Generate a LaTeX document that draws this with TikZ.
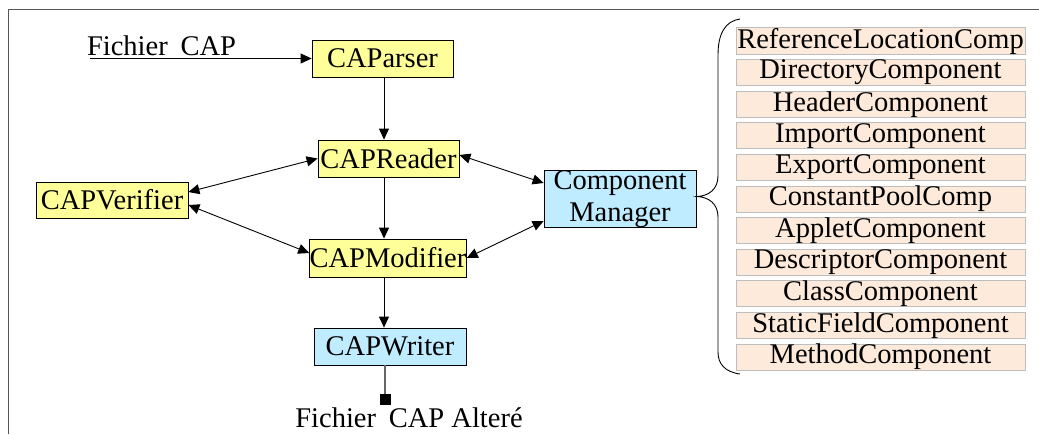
\documentclass[tikz,border=0pt]{standalone}
\usepackage{fontspec}
\setmainfont{Liberation Serif}
\usetikzlibrary{arrows.meta}
\definecolor{yel}{HTML}{FFFF99}
\definecolor{blu}{HTML}{C0ECFF}
\definecolor{pch}{HTML}{FDEADA}
\definecolor{pbd}{HTML}{BDBDBD}
\definecolor{frm}{HTML}{555555}
\begin{document}
\begin{tikzpicture}[x=1pt,y=-1pt,
  every node/.style={font=\fontsize{28.5}{31.7}\selectfont, inner sep=0pt},
  ybox/.style={draw=black, line width=0.8pt, fill=yel, minimum width=#1, minimum height=37pt},
  bbox/.style={draw=black, line width=0.8pt, fill=blu, minimum width=152pt},
  pbox/.style={draw=pbd, line width=1pt, fill=pch, minimum width=289pt, minimum height=26pt},
  arr/.style={line width=0.9pt, -{Triangle[length=11pt,width=10pt]}},
  darr/.style={line width=0.9pt, {Triangle[length=11pt,width=10pt]}-{Triangle[length=11pt,width=10pt]}}]
\useasboundingbox (0,0) rectangle (1039,434);
% frame
\draw[frm, line width=1.5pt] (8.5,434) -- (8.5,9.5) -- (1039,9.5);

% main nodes
\node[ybox=141pt] (parser) at (382.5,58.5) {CAParser};
\node[ybox=141pt] (reader) at (388.5,158.5) {CAPReader};
\node[ybox=152pt, minimum height=36pt] (verifier) at (112,200) {CAPVerifier};
\node[ybox=152pt, minimum height=38pt] (modifier) at (388,258) {CAPModifier};
\node[bbox, minimum height=37pt] (writer) at (390,346.5) {CAPWriter};
\node[bbox, minimum height=54pt, align=center] (cm) at (620,199) {Component\\Manager};
\node[fill=black, minimum size=11pt] (sq) at (385,399.5) {};
\node[anchor=base] (out) at (409,427.5) {Fichier\hspace{0.45em}CAP Alteré};
\node[anchor=base] (in) at (161.5,55) {Fichier\hspace{0.45em}CAP};
\coordinate (inl) at (90,58.5);
\coordinate (colx) at (384,0);

% connectors
\draw[arr] (inl) -- (parser.west);
\draw[arr] (parser.south -| colx) -- (reader.north -| colx);
\draw[arr] (reader.south -| colx) -- (modifier.north -| colx);
\draw[arr] (modifier.south -| colx) -- (writer.north -| colx);
\draw[gray!80!black, line width=1.2pt] (writer.south -| sq) -- (sq.north);
\draw[darr] ([yshift=8pt]verifier.east) -- (reader.west);
\draw[darr] ([yshift=-5pt]verifier.east) -- ([yshift=5pt]modifier.west);
\draw[darr] ([yshift=16pt]cm.west) -- ([yshift=3.5pt]reader.east);
\draw[darr] ([yshift=-22pt]cm.west) -- (modifier.east);

% component list
\foreach \t [count=\i from 0] in {ReferenceLocationComp,DirectoryComponent,HeaderComponent,ImportComponent,ExportComponent,ConstantPoolComp,AppletComponent,DescriptorComponent,ClassComponent,StaticFieldComponent,MethodComponent}
  \node[pbox] (c\i) at (880.5,{41+31.6*\i}) {\t};

% brace
\draw[line width=0.9pt] (740,19) .. controls (725,21) and (718,34) .. (718,55)
  -- (718,176) .. controls (718,189) and (709,196) .. (697,196.5)
  .. controls (709,197) and (718,204) .. (718,217)
  -- (718,352) .. controls (718,364) and (725,372) .. (740,374);
\end{tikzpicture}
\end{document}
